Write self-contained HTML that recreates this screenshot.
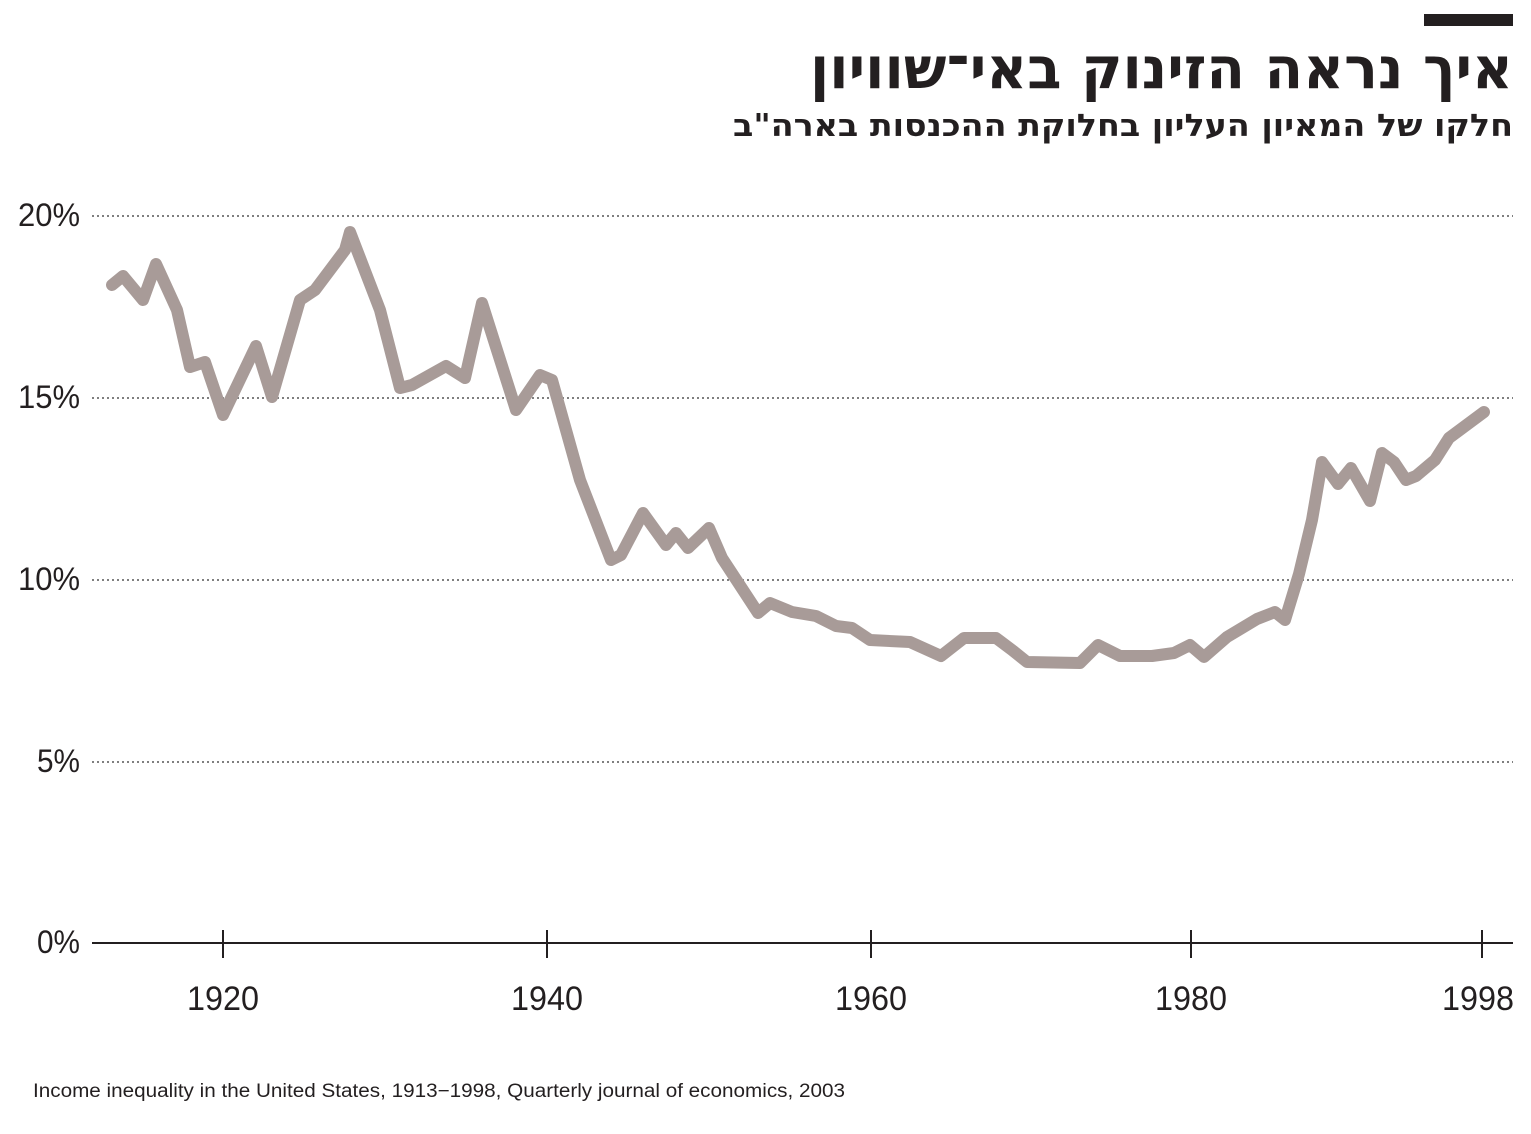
<!DOCTYPE html>
<html><head><meta charset="utf-8"><style>
body{margin:0;background:#fff;}
svg{display:block}
</style></head><body>
<svg width="1531" height="1134" viewBox="0 0 1531 1134" xmlns="http://www.w3.org/2000/svg">
<rect x="1424" y="14" width="89" height="12" fill="#231f20"/>
<text x="1513" y="88" text-anchor="end" font-family="DejaVu Sans, Liberation Sans, sans-serif" font-weight="bold" font-size="58" fill="#231f20" textLength="703" lengthAdjust="spacingAndGlyphs">איך נראה הזינוק באי־שוויון</text>
<text x="1513" y="136" text-anchor="end" font-family="DejaVu Sans, Liberation Sans, sans-serif" font-weight="bold" font-size="31" fill="#231f20" textLength="780" lengthAdjust="spacingAndGlyphs">חלקו של המאיון העליון בחלוקת ההכנסות בארה"ב</text>
<g stroke="#555" stroke-width="1.5" stroke-dasharray="2,3">
<line x1="92" y1="216" x2="1513" y2="216"/>
<line x1="92" y1="398" x2="1513" y2="398"/>
<line x1="92" y1="580" x2="1513" y2="580"/>
<line x1="92" y1="762" x2="1513" y2="762"/>
</g>
<line x1="92" y1="943" x2="1513" y2="943" stroke="#231f20" stroke-width="2"/>
<g stroke="#231f20" stroke-width="2">
<line x1="223" y1="930" x2="223" y2="958"/>
<line x1="547" y1="930" x2="547" y2="958"/>
<line x1="871" y1="930" x2="871" y2="958"/>
<line x1="1191" y1="930" x2="1191" y2="958"/>
<line x1="1482" y1="930" x2="1482" y2="958"/>
</g>
<g font-family="Liberation Sans, sans-serif" font-size="32" fill="#231f20">
<text x="18" y="226" textLength="62" lengthAdjust="spacingAndGlyphs">20%</text>
<text x="18" y="408" textLength="62" lengthAdjust="spacingAndGlyphs">15%</text>
<text x="18" y="590" textLength="62" lengthAdjust="spacingAndGlyphs">10%</text>
<text x="37" y="772" textLength="43" lengthAdjust="spacingAndGlyphs">5%</text>
<text x="37" y="953" textLength="43" lengthAdjust="spacingAndGlyphs">0%</text>
</g>
<g font-family="Liberation Sans, sans-serif" font-size="34" fill="#231f20" text-anchor="middle">
<text x="223" y="1010" textLength="72" lengthAdjust="spacingAndGlyphs">1920</text>
<text x="547" y="1010" textLength="72" lengthAdjust="spacingAndGlyphs">1940</text>
<text x="871" y="1010" textLength="72" lengthAdjust="spacingAndGlyphs">1960</text>
<text x="1191" y="1010" textLength="72" lengthAdjust="spacingAndGlyphs">1980</text>
<text x="1478" y="1010" textLength="72" lengthAdjust="spacingAndGlyphs">1998</text>
</g>
<polyline fill="none" stroke="#a89b98" stroke-width="12" stroke-linejoin="round" stroke-linecap="round" points="112,285 123,276 143,300 156,264 177,310 190,367 205,362 223,415 256,346 272,397 300,300 315,290 345,250 350,232 380,310 400,388 412,385 446,366 465,378 482,303 516,410 540,375 552,380 580,480 611,560 621,555 643,513 666,545 676,533 688,548 709,528 722,558 758,613 770,603 792,612 816,616 836,626 852,628 870,640 910,642 941,656 964,638 996,638 1012,650 1027,662 1080,663 1098,645 1120,656 1152,656 1174,653 1190,645 1204,657 1227,637 1257,619 1275,612 1285,620 1299,574 1312,520 1322,462 1338,484 1351,468 1370,501 1382,453 1394,462 1406,480 1416,476 1435,460 1449,438 1484,412"/>
<text x="33" y="1097" font-family="Liberation Sans, sans-serif" font-size="19" fill="#231f20" textLength="812" lengthAdjust="spacingAndGlyphs">Income inequality in the United States, 1913−1998, Quarterly journal of economics, 2003</text>
</svg>
</body></html>
